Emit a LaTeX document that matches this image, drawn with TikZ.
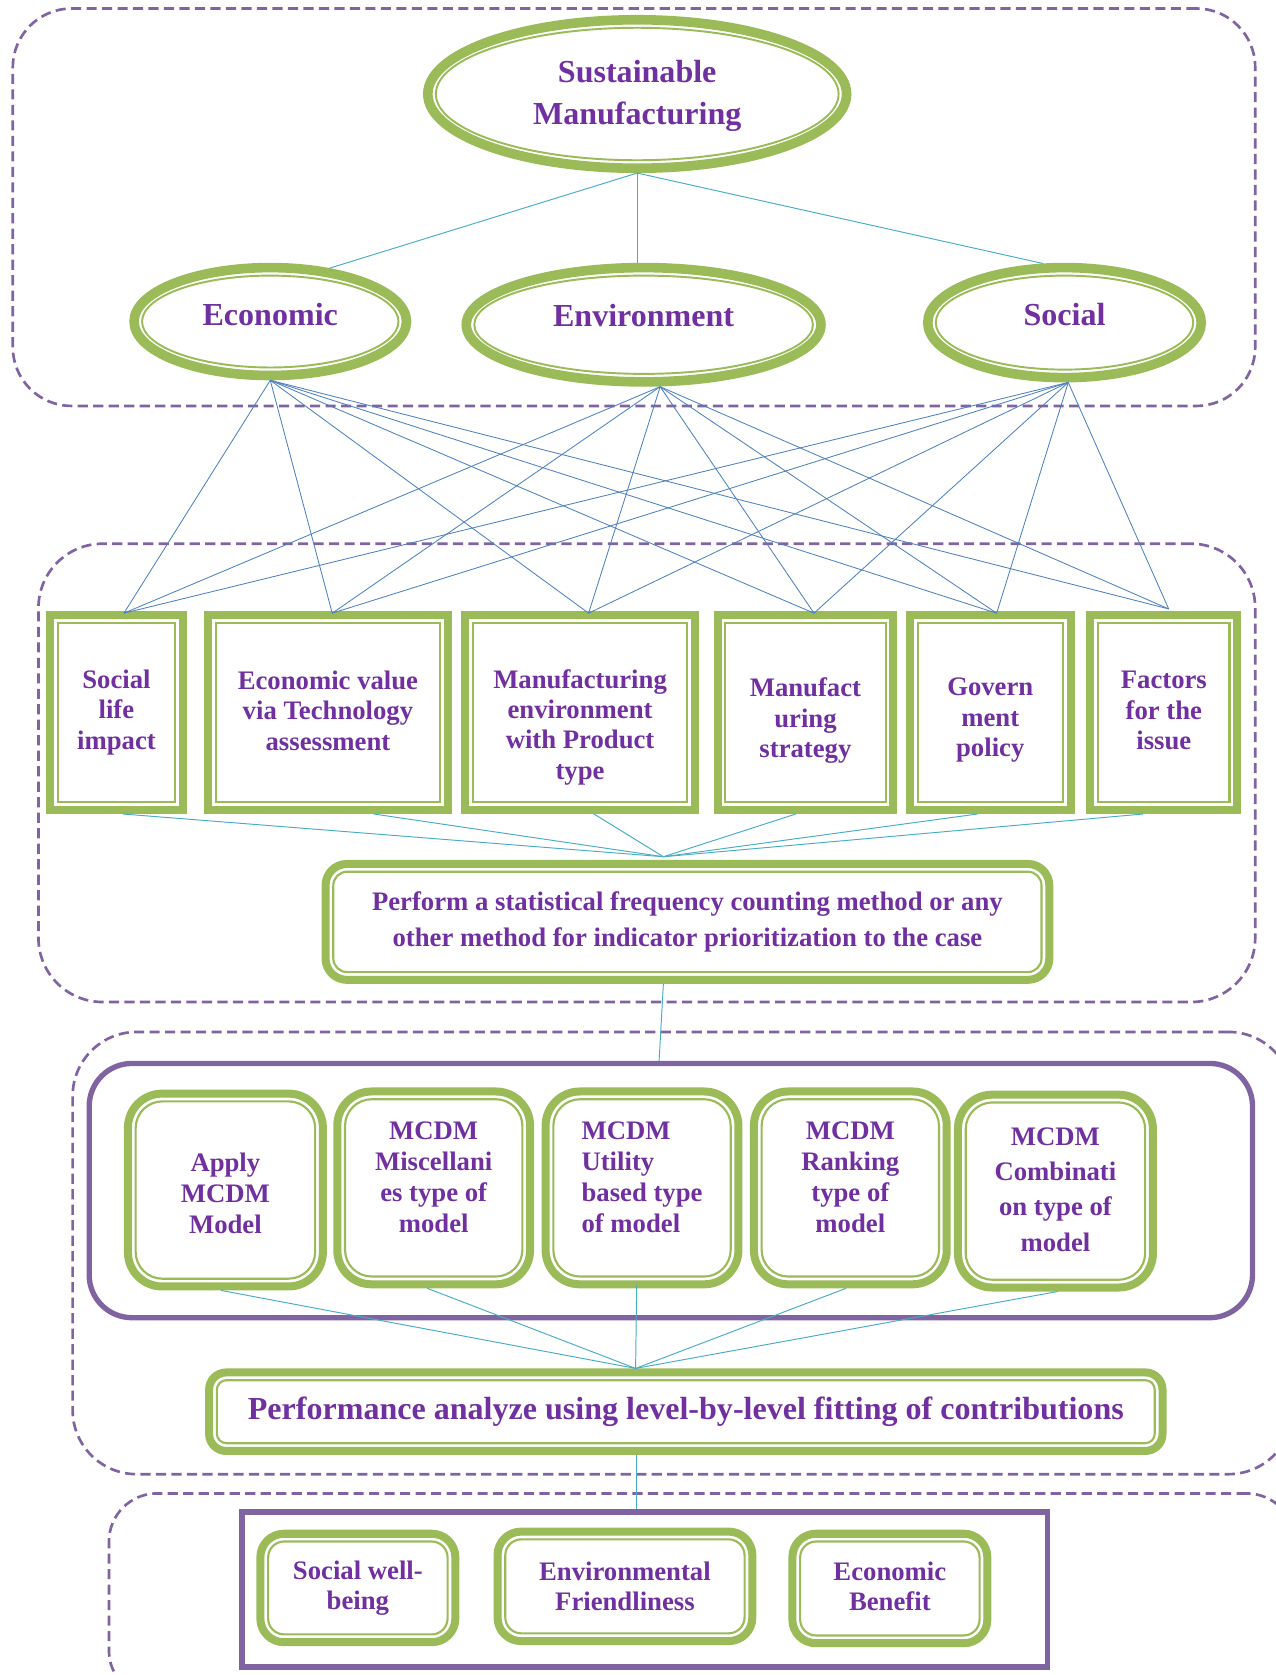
\documentclass[tikz,border=0pt]{standalone}
\usepackage{fontspec}
\setmainfont{Liberation Serif}
\usetikzlibrary{shapes.geometric,calc}
\definecolor{grn}{HTML}{9BBB59}
\definecolor{purp}{HTML}{7030A0}
\definecolor{frm}{HTML}{8064A2}
\definecolor{cyn}{HTML}{4BACC6}
\definecolor{blu}{HTML}{4F81BD}

% invisible struts used to nudge multi-line labels up or down
\newcommand{\lift}[1]{\rule[-#1]{0pt}{#1}}
\newcommand{\drop}[1]{\rule{0pt}{#1}}

\tikzset{
  big/.style={font=\bfseries\fontsize{30}{39}\selectfont, text=purp, align=center},
  mid/.style={font=\bfseries\fontsize{25}{28.5}\selectfont, text=purp, align=center},
  gell/.style={ellipse, draw=grn, line width=9pt, fill=white, inner sep=0pt,
    path picture={\draw[grn, line width=1.8pt]
      let \p1=(path picture bounding box.south west),
          \p2=(path picture bounding box.north east) in
      (path picture bounding box.center)
      ellipse [x radius={(\x2-\x1)/2-7.5pt}, y radius={(\y2-\y1)/2-7.5pt}];}},
  gbox/.style={rectangle, draw=grn, line width=7.5pt, fill=white, inner sep=0pt,
    path picture={\draw[grn, line width=2pt, sharp corners]
      ($(path picture bounding box.south west)+(7.25pt,7.25pt)$) rectangle
      ($(path picture bounding box.north east)-(7.25pt,7.25pt)$);}},
  grbox/.style 2 args={rectangle, rounded corners=#1, draw=grn, line width=7.5pt,
    fill=white, inner sep=0pt,
    path picture={\draw[grn, line width=2pt, rounded corners=#2]
      ($(path picture bounding box.south west)+(7.25pt,7.25pt)$) rectangle
      ($(path picture bounding box.north east)-(7.25pt,7.25pt)$);}},
  dbox/.style={rectangle, draw=frm, line width=2.5pt, dash pattern=on 9.5pt off 5pt,
    rounded corners=#1, inner sep=0pt},
  pframe/.style={rectangle, draw=frm, line width=5pt, inner sep=0pt},
  cline/.style={draw=cyn, line width=0.9pt},
  bline/.style={draw=blu, line width=0.8pt},
}

\begin{document}
\begin{tikzpicture}[x=1pt, y=-1pt]
\useasboundingbox (0,0) rectangle (1194,1568);

% dashed level frames
\node[dbox=55pt, minimum width=1163pt, minimum height=372pt] (z1) at (593.5,194) {};
\node[dbox=60pt, minimum width=1139pt, minimum height=429pt] (z2) at (605.5,723.5) {};
\node[dbox=60pt, minimum width=1142pt, minimum height=414pt] (z3) at (639,1173) {};
\node[dbox=45pt, minimum width=1110pt, minimum height=192pt] (z4) at (657,1494) {};

% solid frames
\node[pframe, rounded corners=40pt, minimum width=1089pt, minimum height=238pt] (fr) at (628,1114.5) {};
\node[pframe, minimum width=754pt, minimum height=145pt] (br) at (603.5,1488) {};

% pillars
\node[gell, big, minimum width=392pt, minimum height=139pt] (sm) at (596.5,88) {\drop{24pt}Sustainable\\Manufacturing};
\node[gell, big, minimum width=255pt, minimum height=101pt, text depth=14pt] (eco) at (253,301) {Economic};
\node[gell, big, minimum width=332pt, minimum height=107pt, text depth=18pt] (env) at (602.5,304) {Environment};
\node[gell, big, minimum width=256pt, minimum height=103pt, text depth=16pt] (soc) at (996.5,302) {Social};

% indicators
\node[gbox, mid, minimum width=124.5pt, minimum height=182.5pt] (b1) at (109,667) {Social\\life\\impact};
\node[gbox, mid, minimum width=224.5pt, minimum height=182.5pt] (b2) at (307,667) {\lift{0pt}Economic value\\via Technology\\assessment\lift{4pt}};
\node[gbox, mid, minimum width=214.5pt, minimum height=182.5pt] (b3) at (543,667) {\drop{45pt}Manufacturing\\environment\\with Product\\type};
\node[gbox, mid, minimum width=164.5pt, minimum height=182.5pt] (b4) at (754,667) {\drop{33pt}Manufact\\uring\\strategy};
\node[gbox, mid, minimum width=150.5pt, minimum height=182.5pt] (b5) at (927,667) {\drop{31pt}Govern\\ment\\policy};
\node[gbox, mid, minimum width=137.5pt, minimum height=182.5pt] (b6) at (1089.5,667) {Factors\\for the\\issue\lift{4pt}};

\node[grbox={20pt}{13pt}, mid, font=\bfseries\fontsize{25}{34}\selectfont,
  minimum width=677.5pt, minimum height=108.5pt] (pf) at (643.5,863)
  {Perform a statistical frequency counting method or any\\other method for indicator prioritization to the case};

% MCDM models
\node[grbox={32pt}{25pt}, mid, font=\bfseries\fontsize{25}{29}\selectfont,
  minimum width=182.5pt, minimum height=180.5pt] (m1) at (211,1114) {\drop{23pt}Apply\\MCDM\\Model};
\node[grbox={32pt}{25pt}, mid, font=\bfseries\fontsize{25}{29}\selectfont,
  minimum width=180.5pt, minimum height=180.5pt] (m2) at (406,1112) {MCDM\\Miscellani\\es type of\\model\lift{20pt}};
\node[grbox={32pt}{25pt}, mid, font=\bfseries\fontsize{25}{29}\selectfont, align=left,
  minimum width=180.5pt, minimum height=180.5pt] (m3) at (601,1112) {MCDM\\Utility\\based type\\of model\lift{20pt}};
\node[grbox={32pt}{25pt}, mid, font=\bfseries\fontsize{25}{29}\selectfont,
  minimum width=180.5pt, minimum height=180.5pt] (m4) at (796,1112) {MCDM\\Ranking\\type of\\model\lift{20pt}};
\node[grbox={32pt}{25pt}, mid, font=\bfseries\fontsize{25}{33}\selectfont,
  minimum width=182.5pt, minimum height=180.5pt] (m5) at (988,1115) {MCDM\\Combinati\\on type of\\model\lift{3pt}};

\node[grbox={16pt}{9pt}, big, minimum width=892.5pt, minimum height=73.5pt] (pr) at (642,1321.5)
  {Performance analyze using level-by-level fitting of contributions\lift{6pt}};

% outcomes
\node[grbox={22pt}{15pt}, mid, minimum width=182.5pt, minimum height=101.5pt] (o1) at (335,1486.5) {Social well-\\being};
\node[grbox={22pt}{15pt}, mid, minimum width=238.5pt, minimum height=102.5pt] (o2) at (585,1485) {Environmental\\Friendliness};
\node[grbox={22pt}{15pt}, mid, minimum width=182.5pt, minimum height=102.5pt] (o3) at (833,1487) {Economic\\Benefit\lift{4pt}};

% connectors: goal to pillars
\draw[cline] (sm.south) -- (eco.42);
\draw[cline] (sm.south) -- (sm.south |- env.north);
\draw[cline] (sm.south) -- (soc.110);

% connectors: pillars to indicators
\coordinate (envb) at ([xshift=15.5pt]env.south);
\coordinate (socb) at ([xshift=3.5pt]soc.south);
\coordinate (t1) at ([xshift=7pt,yshift=-2pt]b1.north);
\coordinate (t2) at ([xshift=4pt,yshift=-2pt]b2.north);
\coordinate (t3) at ([xshift=8pt,yshift=-2pt]b3.north);
\coordinate (t4) at ([xshift=8pt,yshift=-2pt]b4.north);
\coordinate (t5) at ([xshift=6pt,yshift=-2pt]b5.north);
\coordinate (t6) at ([xshift=4.5pt,yshift=2pt]b6.north);
\foreach \s in {eco.south, envb, socb}
  \foreach \t in {t1,t2,t3,t4,t5,t6}
    \draw[bline] (\s) -- (\t);

% connectors: indicators to prioritization
\coordinate (pft) at ([xshift=-22.5pt,yshift=3pt]pf.north);
\draw[cline] ([xshift=6pt]b1.south) -- (pft);
\draw[cline] ([xshift=43pt]b2.south) -- (pft);
\draw[cline] ([xshift=13pt]b3.south) -- (pft);
\draw[cline] ([xshift=-9pt]b4.south) -- (pft);
\draw[cline] ([xshift=-12pt]b5.south) -- (pft);
\draw[cline] ([xshift=-19.5pt]b6.south) -- (pft);

% prioritization to MCDM frame
\draw[cline] ([xshift=-22.5pt]pf.south) -- ([xshift=-11pt]fr.north);

% models to performance analysis
\coordinate (prt) at ([xshift=-47pt]pr.north);
\draw[cline] ([xshift=-4pt]m1.south) -- (prt);
\draw[cline] ([xshift=-6pt]m2.south) -- (prt);
\draw[cline] ([xshift=-5pt,yshift=3pt]m3.south) -- (prt);
\draw[cline] ([xshift=-4pt]m4.south) -- (prt);
\draw[cline] ([xshift=2pt]m5.south) -- (prt);

% performance analysis to outcomes
\coordinate (pq) at ([xshift=-46pt]pr.south);
\draw[cline] (pq) -- (pq |- br.north);
\end{tikzpicture}
\end{document}
